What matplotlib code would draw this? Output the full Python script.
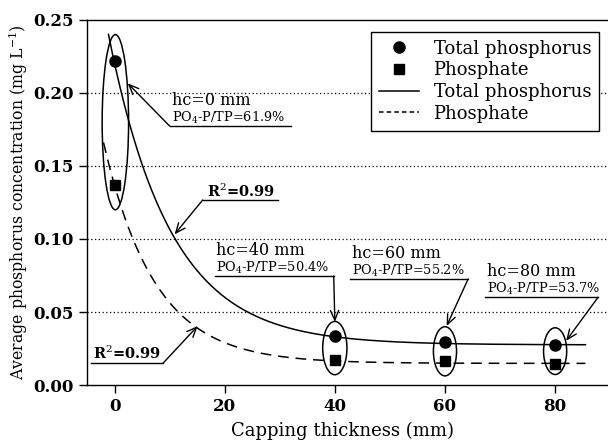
import numpy as np
import matplotlib
matplotlib.use("Agg")
import matplotlib.pyplot as plt
from matplotlib.lines import Line2D
from matplotlib.patches import Ellipse

plt.rcParams["font.family"] = ["DejaVu Serif"]
plt.rcParams["mathtext.fontset"] = "dejavuserif"

# measured averages
thickness = [0, 40, 60, 80]
tp = [0.222, 0.0335, 0.0297, 0.0274]
po4 = [0.137, 0.0169, 0.0164, 0.0147]
ratio = ["61.9%", "50.4%", "55.2%", "53.7%"]

# exponential fits y = a*exp(-x/t) + c
tp_fit = (0.1928, 11.25, 0.0275)
po4_fit = (0.122, 9.3, 0.0148)


def model(x, p):
    a, t, c = p
    return a * np.exp(-x / t) + c


fig = plt.figure(figsize=(6.08, 4.48), dpi=100)
ax = fig.add_axes([0.1431, 0.1406, 0.8569, 0.8148])

for yv in [0.05, 0.10, 0.15, 0.20]:
    ax.axhline(yv, color="black", ls=(0, (1, 2)), lw=0.9, zorder=0)

xs = np.linspace(-1.1, 85.5, 400)
ax.plot(xs, model(xs, tp_fit), color="black", lw=1.1)
xs2 = np.linspace(-2.0, 85.5, 400)
ax.plot(xs2, model(xs2, po4_fit), color="black", lw=1.1, ls=(0, (7, 4.5)))

ax.plot(thickness, tp, "o", color="black", ms=8)
ax.plot(thickness, po4, "s", color="black", ms=6.5)

# groups circled
for x0, yc, w, h in [(0.15, 0.18, 4.8, 0.12), (40, 0.0253, 4.4, 0.0365),
                     (60, 0.0231, 4.2, 0.0337), (80, 0.0232, 4.2, 0.032)]:
    ax.add_patch(Ellipse((x0, yc), w, h, fill=False, ec="black", lw=1.1))

arrow = dict(arrowstyle="->,head_length=0.7,head_width=0.3", color="black",
             lw=1.0, shrinkA=0, shrinkB=0)

# hc labels with PO4-P/TP ratios: text x, underline y, underline span, arrow tip
labels = [
    (10.5, 0.1774, 10.0, 32.1, (2.4, 0.2066)),
    (18.5, 0.0747, 18.2, 39.8, (40.0, 0.0432)),
    (43.1, 0.0726, 42.7, 64.2, (60.3, 0.0404)),
    (67.6, 0.0601, 67.3, 87.8, (82.0, 0.0303)),
]
for i, (tx, uy, x1, x2, tgt) in enumerate(labels):
    ax.text(tx, uy + 0.0176, "hc=%d mm" % thickness[i], fontsize=11.5,
            va="center")
    ax.text(tx, uy + 0.0058, "PO$_4$-P/TP=" + ratio[i], fontsize=9.3,
            va="center")
    ax.plot([x1, x2], [uy, uy], color="black", lw=1.0)
    start = x1 if tgt[0] < x1 else x2
    ax.annotate("", xy=tgt, xytext=(start, uy), arrowprops=arrow)

# R² callouts
ax.text(16.8, 0.1325, "R$^2$=0.99", fontsize=10.5, fontweight="bold",
        va="center")
ax.plot([16.0, 29.6], [0.1267, 0.1267], color="black", lw=1.0)
ax.annotate("", xy=(10.9, 0.1032), xytext=(16.0, 0.1267), arrowprops=arrow)

ax.text(-3.9, 0.0215, "R$^2$=0.99", fontsize=10.5, fontweight="bold",
        va="center")
ax.plot([-4.24, 8.8], [0.0149, 0.0149], color="black", lw=1.0)
ax.annotate("", xy=(15.1, 0.0404), xytext=(8.8, 0.0149), arrowprops=arrow)

ax.set_xlim(-5, 89.6)
ax.set_ylim(0, 0.25)
ax.set_xticks([0, 20, 40, 60, 80])
ax.set_yticks([0.00, 0.05, 0.10, 0.15, 0.20, 0.25])
ax.set_yticklabels(["%.2f" % v for v in ax.get_yticks()])
ax.tick_params(direction="out", length=6, width=1.0, labelsize=12)
for lab in ax.get_xticklabels() + ax.get_yticklabels():
    lab.set_fontweight("bold")
ax.spines["right"].set_visible(False)
for s in ["left", "bottom", "top"]:
    ax.spines[s].set_linewidth(1.0)

ax.set_xlabel("Capping thickness (mm)", fontsize=13)
ax.set_ylabel("Average phosphorus concentration (mg L$^{-1}$)", fontsize=11.3)
ax.xaxis.set_label_coords(0.49, -0.102)
ax.yaxis.set_label_coords(-0.11, 0.5)

handles = [
    Line2D([], [], marker="o", ls="none", color="black", ms=8),
    Line2D([], [], marker="s", ls="none", color="black", ms=6.5),
    Line2D([], [], color="black", lw=1.1),
    Line2D([], [], color="black", lw=1.1, ls=(0, (3, 2))),
]
leg = ax.legend(handles, ["Total phosphorus", "Phosphate", "Total phosphorus",
                          "Phosphate"],
                loc="upper right", bbox_to_anchor=(0.983, 0.968),
                borderaxespad=0, fancybox=False, framealpha=1,
                edgecolor="black", fontsize=13, handlelength=2.2,
                labelspacing=0.2, borderpad=0.45, handletextpad=0.8)
leg.get_frame().set_linewidth(1.0)

fig.savefig("out.png", dpi=100)
